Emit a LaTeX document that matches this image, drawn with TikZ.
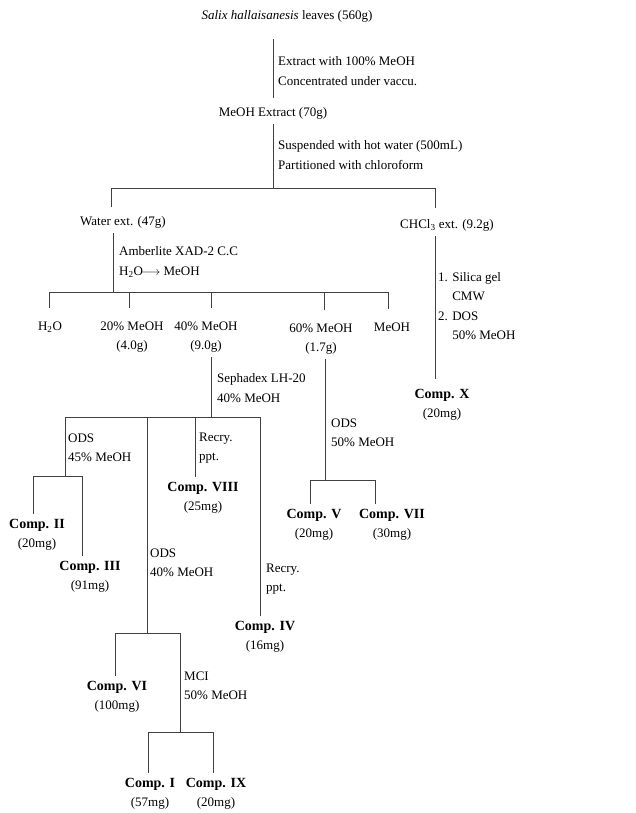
\documentclass[tikz,border=0pt]{standalone}
\usepackage{fontspec}
\setmainfont{Liberation Serif}
\usepackage{tikz}
\usetikzlibrary{calc}
\newcommand{\cmpd}[1]{{\fontsize{14}{19.5}\selectfont\bfseries #1}}
\tikzset{
	item/.style={%
		inner sep=2pt, outer sep=3pt,
		align=center,
		font=\fontsize{13}{19.5}\selectfont
	},
	cond/.style={%
		inner sep=0pt, anchor=west,
		align=left,
		font=\fontsize{13}{19.5}\selectfont
	},
	link/.style={draw=black!75, line width=0.7pt}
}

\begin{document}
\begin{tikzpicture}[x=1pt,y=-1pt]
	\useasboundingbox (0,0) rectangle (635,813);
	
	% Extraction
	\node[item] (source) at (287,16) {\textit{Salix hallaisanesis} leaves (560g)};
	\node[item] (meohext) at (273,113) {MeOH Extract (70g)};
	\node[cond] at (278,71) {Extract with 100\% MeOH\\Concentrated under vaccu.};
	\draw[link,shorten <=12pt,shorten >=4pt] (meohext.north |- source.south) -- (meohext.north);
	
	% Partition
	\coordinate (split) at (273,188);
	\coordinate (splitL) at (111,188);
	\coordinate (splitR) at (435,188);
	\node[cond] at (278,155) {Suspended with hot water (500mL)\\Partitioned with chloroform};
	\node[item] (waterext) at (123,222) {Water ext. (47g)};
	\node[item] (chclext) at (447,225) {CHCl\textsubscript{3} ext. (9.2g)};
	\draw[link] (meohext) -- (split);
	\draw[link] (splitL) -- (splitR);
	\draw[link,shorten >=4pt] (splitL) -- (splitL |- waterext.north);
	\draw[link,shorten >=6pt] (splitR) -- (splitR |- chclext.north);
	
	% Amberlite fractions
	\coordinate (xad) at (113,292);
	\coordinate (fracA) at (49,292);
	\coordinate (fracB) at (129,292);
	\coordinate (fracC) at (211,292);
	\coordinate (fracD) at (324,292);
	\coordinate (fracE) at (388,292);
	\node[cond] at (119,262) {Amberlite XAD-2 C.C\\H\textsubscript{2}O$\!\longrightarrow$ MeOH};
	\node[item] (h2o) at (50,327) {H\textsubscript{2}O};
	\node[item] (m20) at (132,337) {20\% MeOH\\(4.0g)};
	\node[item] (m40) at (206,337) {40\% MeOH\\(9.0g)};
	\node[item] (m60) at (321,339) {60\% MeOH\\(1.7g)};
	\node[item] (m100) at (392,327) {MeOH};
	\draw[link] (waterext.south -| xad) -- (xad);
	\draw[link] (fracA) -- (fracE);
	\draw[link,shorten >=9pt] (fracA) -- (fracA |- h2o.north);
	\draw[link,shorten >=9pt] (fracB) -- (fracB |- m20.north);
	\draw[link,shorten >=9pt] (fracC) -- (fracC |- m40.north);
	\draw[link,shorten >=9pt] (fracD) -- (fracD |- m60.north);
	\draw[link,shorten >=9pt] (fracE) -- (fracE |- m100.north);
	
	% CHCl3 ext.
	\node[cond] at (438,306) {1. Silica gel\\\hphantom{1. }CMW\\2. DOS\\\hphantom{2. }50\% MeOH};
	\node[item] (compX) at (442,405) {\cmpd{Comp. X}\\(20mg)};
	\draw[link,shorten >=5pt] (chclext.south -| splitR) -- (splitR |- compX.north);
	
	% Sephadex on 40% MeOH
	\coordinate (lh) at (211,417);
	\coordinate (lhA) at (65,417);
	\coordinate (lhB) at (147,417);
	\coordinate (lhC) at (195,417);
	\coordinate (lhD) at (260,417);
	\node[cond] at (217,388) {Sephadex LH-20\\40\% MeOH};
	\draw[link] (m40.south -| lh) -- (lh);
	\draw[link] (lhA) -- (lhD);
	
	% ODS 45%
	\coordinate (odsA) at (65,476);
	\coordinate (odsAL) at (33,476);
	\coordinate (odsAR) at (82,476);
	\node[cond] at (68,448) {ODS\\45\% MeOH};
	\node[item] (comp2) at (37,535) {\cmpd{Comp. II}\\(20mg)};
	\node[item] (comp3) at (90,577) {\cmpd{Comp. III}\\(91mg)};
	\draw[link] (lhA) -- (odsA);
	\draw[link] (odsAL) -- (odsAR);
	\draw[link] (odsAL) -- (odsAL |- comp2.north);
	\draw[link] (odsAR) -- (odsAR |- comp3.north);
	
	% Recry. (VIII)
	\node[cond] at (199,448) {Recry.\\ppt.};
	\node[item] (comp8) at (203,498) {\cmpd{Comp. VIII}\\(25mg)};
	\draw[link] (lhC) -- (lhC |- comp8.north);
	
	% ODS 40%
	\coordinate (odsB) at (147,633);
	\coordinate (odsBL) at (115,633);
	\coordinate (odsBR) at (180,633);
	\node[cond] at (150,563) {ODS\\40\% MeOH};
	\node[item] (comp6) at (117,697) {\cmpd{Comp. VI}\\(100mg)};
	\draw[link] (lhB) -- (odsB);
	\draw[link] (odsBL) -- (odsBR);
	\draw[link] (odsBL) -- (odsBL |- comp6.north);
	
	% MCI
	\coordinate (mci) at (180,732);
	\coordinate (mciL) at (148,732);
	\coordinate (mciR) at (213,732);
	\node[cond] at (184,686) {MCI\\50\% MeOH};
	\node[item] (comp1) at (150,794) {\cmpd{Comp. I}\\(57mg)};
	\node[item] (comp9) at (216,794) {\cmpd{Comp. IX}\\(20mg)};
	\draw[link] (odsBR) -- (mci);
	\draw[link] (mciL) -- (mciR);
	\draw[link] (mciL) -- (mciL |- comp1.north);
	\draw[link] (mciR) -- (mciR |- comp9.north);
	
	% Recry. (IV)
	\node[cond] at (266,579) {Recry.\\ppt.};
	\node[item] (comp4) at (265,637) {\cmpd{Comp. IV}\\(16mg)};
	\draw[link] (lhD) -- (lhD |- comp4.north);
	
	% ODS on 60% MeOH
	\coordinate (odsC) at (325,480);
	\coordinate (odsCL) at (310,480);
	\coordinate (odsCR) at (375,480);
	\node[cond] at (331,433) {ODS\\50\% MeOH};
	\node[item] (comp5) at (314,525) {\cmpd{Comp. V}\\(20mg)};
	\node[item] (comp7) at (392,525) {\cmpd{Comp. VII}\\(30mg)};
	\draw[link] (m60.south -| odsC) -- (odsC);
	\draw[link] (odsCL) -- (odsCR);
	\draw[link] (odsCL) -- (odsCL |- comp5.north);
	\draw[link] (odsCR) -- (odsCR |- comp7.north);
	
\end{tikzpicture}
\end{document}
